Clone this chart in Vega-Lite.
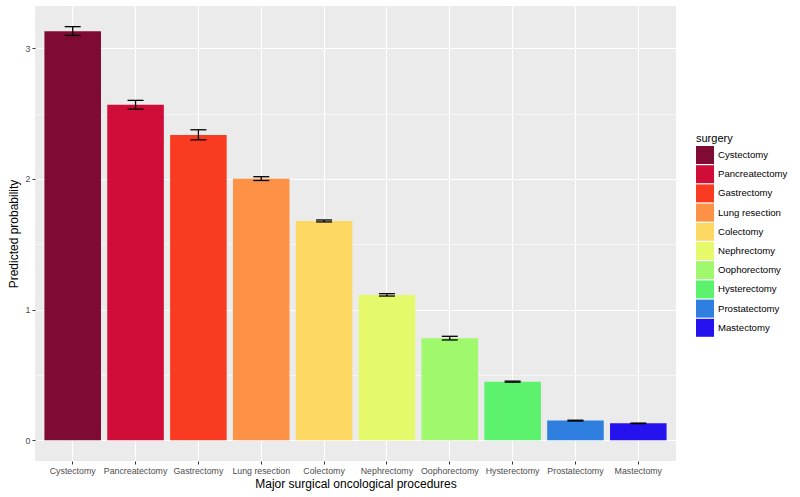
{
  "$schema": "https://vega.github.io/schema/vega-lite/v6.json",
  "width": 641,
  "height": 455,
  "autosize": {"type": "none"},
  "padding": {"left": 35, "top": 6, "right": 124, "bottom": 36},
  "background": "white",
  "config": {
    "view": {"fill": "#EBEBEB", "stroke": null},
    "font": "Liberation Sans"
  },
  "data": {
    "values": [
      {"surgery": "Cystectomy", "prob": 3.13, "lo": 3.098, "hi": 3.165},
      {"surgery": "Pancreatectomy", "prob": 2.567, "lo": 2.534, "hi": 2.601},
      {"surgery": "Gastrectomy", "prob": 2.337, "lo": 2.299, "hi": 2.376},
      {"surgery": "Lung resection", "prob": 2.002, "lo": 1.988, "hi": 2.017},
      {"surgery": "Colectomy", "prob": 1.678, "lo": 1.671, "hi": 1.686},
      {"surgery": "Nephrectomy", "prob": 1.112, "lo": 1.104, "hi": 1.122},
      {"surgery": "Oophorectomy", "prob": 0.781, "lo": 0.768, "hi": 0.796},
      {"surgery": "Hysterectomy", "prob": 0.449, "lo": 0.445, "hi": 0.453},
      {"surgery": "Prostatectomy", "prob": 0.151, "lo": 0.148, "hi": 0.154},
      {"surgery": "Mastectomy", "prob": 0.130, "lo": 0.128, "hi": 0.132}
    ]
  },
  "encoding": {
    "x": {
      "field": "surgery",
      "type": "nominal",
      "sort": null,
      "scale": {"paddingInner": 0.1, "paddingOuter": 0.15},
      "axis": {
        "title": "Major surgical oncological procedures",
        "titleFontSize": 12,
        "titleFontWeight": "normal",
        "titleColor": "#000000",
        "titlePadding": 4,
        "labelAngle": 0,
        "labelFontSize": 8.8,
        "labelColor": "#4D4D4D",
        "labelPadding": 2,
        "tickColor": "#333333",
        "tickSize": 3,
        "tickWidth": 1,
        "domain": false,
        "grid": true,
        "gridColor": "#FFFFFF",
        "gridWidth": 1.1,
        "bandPosition": 0.5
      }
    }
  },
  "layer": [
    {
      "mark": {"type": "bar"},
      "encoding": {
        "y": {
          "field": "prob",
          "type": "quantitative",
          "scale": {"domain": [-0.158, 3.323], "nice": false, "zero": false},
          "axis": {
            "title": "Predicted probability",
            "titleFontSize": 12,
            "titleFontWeight": "normal",
            "titleColor": "#000000",
            "titlePadding": 5,
            "values": [0, 0.5, 1, 1.5, 2, 2.5, 3],
            "labelExpr": "datum.value % 1 === 0 ? format(datum.value, 'd') : ''",
            "labelFontSize": 8.8,
            "labelColor": "#4D4D4D",
            "labelPadding": 2,
            "tickColor": "#333333",
            "tickSize": 3,
            "tickOpacity": {"condition": {"test": "datum.value % 1 === 0", "value": 1}, "value": 0},
            "domain": false,
            "grid": true,
            "gridColor": "#FFFFFF",
            "gridWidth": {"condition": {"test": "datum.value % 1 === 0", "value": 1.1}, "value": 0.55}
          }
        },
        "color": {
          "field": "surgery",
          "type": "nominal",
          "sort": null,
          "scale": {
            "domain": ["Cystectomy", "Pancreatectomy", "Gastrectomy", "Lung resection", "Colectomy", "Nephrectomy", "Oophorectomy", "Hysterectomy", "Prostatectomy", "Mastectomy"],
            "range": ["#7F0B35", "#D00C38", "#F93B22", "#FD9145", "#FDD964", "#E5F96B", "#A0F86D", "#5DF26E", "#2E7FE0", "#2513EF"]
          },
          "legend": {
            "orient": "none",
            "legendX": 661,
            "legendY": 127,
            "title": "surgery",
            "titleFontSize": 11,
            "titleFontWeight": "normal",
            "titleColor": "#000000",
            "titlePadding": 2,
            "symbolType": "square",
            "symbolSize": 324,
            "symbolStrokeWidth": 0,
            "symbolOpacity": 1,
            "rowPadding": 1.2,
            "labelFontSize": 9.6,
            "labelColor": "#000000",
            "labelOffset": 4
          }
        }
      }
    },
    {
      "mark": {"type": "rule", "color": "#000000", "strokeWidth": 1.3},
      "encoding": {
        "y": {"field": "lo", "type": "quantitative"},
        "y2": {"field": "hi"}
      }
    },
    {
      "mark": {"type": "tick", "color": "#000000", "opacity": 1, "size": 16, "thickness": 1.3},
      "encoding": {"y": {"field": "lo", "type": "quantitative"}}
    },
    {
      "mark": {"type": "tick", "color": "#000000", "opacity": 1, "size": 16, "thickness": 1.3},
      "encoding": {"y": {"field": "hi", "type": "quantitative"}}
    }
  ]
}
